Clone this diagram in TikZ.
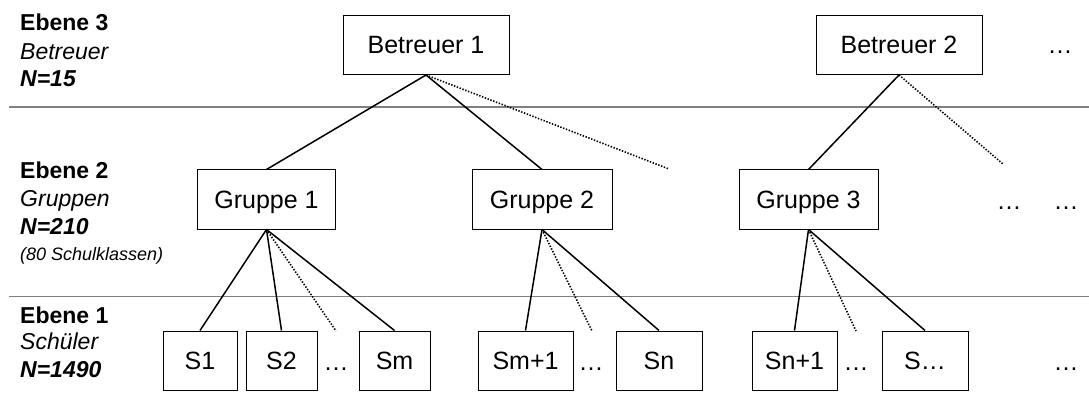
\documentclass[tikz,border=0pt]{standalone}
\usepackage{fontspec}
\setmainfont{Liberation Sans}

\begin{document}
\begin{tikzpicture}[x=1pt, y=-1pt,
    box/.style={rectangle, draw, line width=1pt, minimum height=59pt, inner sep=0pt,
        text height=18pt, text depth=0pt, font=\fontsize{25}{30}\selectfont},
    more/.style={anchor=base, inner sep=0pt, font=\fontsize{25}{30}\selectfont},
    lbl/.style={anchor=base west, inner sep=0pt, font=\fontsize{23}{28}\selectfont},
    tie/.style={line width=1.5pt},
    tiedot/.style={line width=1.6pt, dash pattern=on 1.4pt off 1.6pt},
    rule/.style={draw=gray, line width=1.3pt}]
    \useasboundingbox (0,0) rectangle (1089,398);

    % levels
    \draw[rule] (9,107) -- (1089,107);
    \draw[rule] (9,296.5) -- (1089,296.5);

    \node[lbl] (e3) at (20,31) {\textbf{Ebene 3}};
    \node[lbl] (t3) at (20,60) {\textit{Betreuer}};
    \node[lbl] (n3) at (20,87) {\textbf{\textit{N=15}}};
    \node[lbl] (e2) at (20,179) {\textbf{Ebene 2}};
    \node[lbl] (t2) at (20,207) {\textit{Gruppen}};
    \node[lbl] (n2) at (20,234) {\textbf{\textit{N=210}}};
    \node[lbl, font=\fontsize{18}{22}\selectfont] (k2) at (20,260) {\textit{(80 Schulklassen)}};
    \node[lbl] (e1) at (20,323) {\textbf{Ebene 1}};
    \node[lbl] (t1) at (20,349) {\textit{Schüler}};
    \node[lbl] (n1) at (20,377) {\textbf{\textit{N=1490}}};

    % Betreuer
    \node[box, minimum width=166pt] (b1) at (426,45) {Betreuer 1};
    \node[box, minimum width=166pt] (b2) at (899,45) {Betreuer 2};
    \node[more] (bx) at (1060,54) {…};

    % Gruppen
    \node[box, minimum width=138pt] (g1) at (266.5,199.5) {Gruppe 1};
    \node[box, minimum width=140pt] (g2) at (542,199.5) {Gruppe 2};
    \node[box, minimum width=139pt] (g3) at (808.5,199.5) {Gruppe 3};
    \node[more] (gx) at (1009,209) {…};
    \node[more] (gy) at (1066,209) {…};

    % Schueler
    \node[box, minimum width=74pt] (s1) at (200,360.5) {S1};
    \node[box, minimum width=71pt] (s2) at (281.5,360.5) {S2};
    \node[more] (sa) at (336,370) {…};
    \node[box, minimum width=71pt] (sm) at (394.5,360.5) {Sm};
    \node[box, minimum width=95pt] (sm1) at (525.5,360.5) {Sm+1};
    \node[more] (sb) at (591,370) {…};
    \node[box, minimum width=86pt] (sn) at (659,360.5) {Sn};
    \node[box, minimum width=85pt] (sn1) at (794.5,360.5) {Sn+1};
    \node[more] (sc) at (856,370) {…};
    \node[box, minimum width=86pt] (sx) at (925,360.5) {S…};
    \node[more] (sd) at (1066,370) {…};

    % open ends
    \coordinate (b1o) at (669,169);
    \coordinate (b2o) at (1003,164);
    \coordinate (g1o) at (336,331);
    \coordinate (g2o) at (592,331);
    \coordinate (g3o) at (856,331);

    \draw[tie] (b1.south) -- (g1.north);
    \draw[tie] (b1.south) -- (g2.north);
    \draw[tiedot] (b1.south) -- (b1o);
    \draw[tie] (b2.south) -- (g3.north);
    \draw[tiedot] (b2.south) -- (b2o);

    \draw[tie] (g1.south) -- (s1.north);
    \draw[tie] (g1.south) -- (s2.north);
    \draw[tiedot] (g1.south) -- (g1o);
    \draw[tie] (g1.south) -- (sm.north);
    \draw[tie] (g2.south) -- (sm1.north);
    \draw[tiedot] (g2.south) -- (g2o);
    \draw[tie] (g2.south) -- (sn.north);
    \draw[tie] (g3.south) -- (sn1.north);
    \draw[tiedot] (g3.south) -- (g3o);
    \draw[tie] (g3.south) -- (sx.north);
\end{tikzpicture}
\end{document}
